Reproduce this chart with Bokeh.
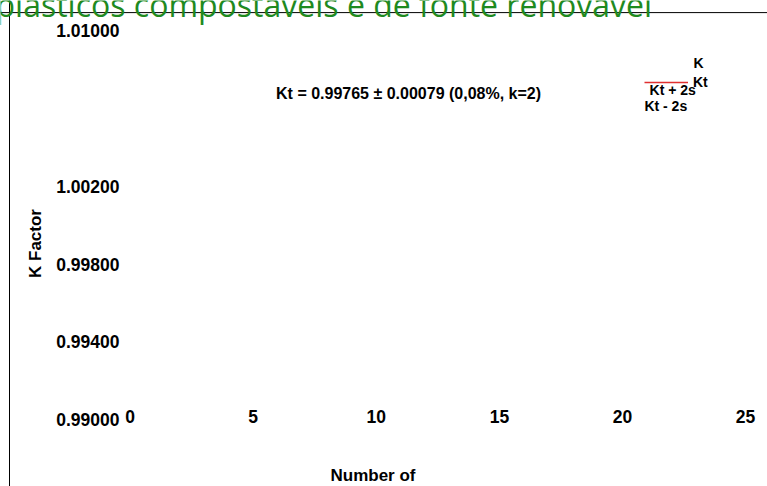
from bokeh.plotting import figure
from bokeh.models import Range1d, FixedTicker, Label, Span, Legend, LegendItem, LinearAxis
from bokeh.embed import file_html
from bokeh.resources import INLINE

# ---- data ----
title_text = "plásticos compostáveis e de fonte renovável"
x_ticks = [0, 5, 10, 15, 20, 25]
y_ticks = [0.990, 0.994, 0.998, 1.002, 1.010]
y_tick_labels = ["0.99000", "0.99400", "0.99800", "1.00200", "1.01000"]
kt_value = 0.99765
kt_uncert = 0.00079
kt_rel = "0,08%"
kt_k = 2
legend_names = ["K", "Kt", "Kt + 2s", "Kt - 2s"]
x_title = "Number of"
y_title = "K Factor"

FONT = "Liberation Sans"
NAN = float("nan")

p = figure(width=767, height=486, output_backend="svg", toolbar_location=None,
           x_range=Range1d(-5.264, 25.89), y_range=Range1d(0.986582, 1.011531),
           min_border=0, x_axis_location=None, y_axis_location=None)
p.outline_line_color = None
p.xgrid.visible = False
p.ygrid.visible = False
p.background_fill_color = "white"
p.border_fill_color = "white"

xa = LinearAxis(ticker=FixedTicker(ticks=x_ticks), fixed_location=0.99074,
                axis_label=x_title, bounds=(-5.26, 25))
ya = LinearAxis(ticker=FixedTicker(ticks=y_ticks), fixed_location=-0.27,
                axis_label=y_title,
                major_label_overrides={t: s for t, s in zip(y_ticks, y_tick_labels)})
for ax in (xa, ya):
    ax.axis_line_color = None
    ax.major_tick_line_color = None
    ax.minor_tick_line_color = None
    ax.major_tick_out = 0
    ax.major_tick_in = 0
    ax.major_label_standoff = 4
    ax.major_label_text_font = FONT
    ax.major_label_text_font_style = "bold"
    ax.major_label_text_font_size = "17.5px"
    ax.major_label_text_color = "black"
    ax.axis_label_text_font = FONT
    ax.axis_label_text_font_style = "bold"
    ax.axis_label_text_font_size = "17px"
    ax.axis_label_text_color = "black"
xa.axis_label_standoff = 40
ya.axis_label_standoff = 8
p.add_layout(xa, "below")
p.add_layout(ya, "left")

# chart-area border (left and top edges visible)
p.add_layout(Span(location=-4.898, dimension="height", line_color="black", line_width=1))
p.add_layout(Span(location=1.01091, dimension="width", line_color="black", line_width=1))

# cropped green heading
p.add_layout(Label(x=-5.467, y=1.01130, text=title_text, text_font="Open Sans",
                   text_font_size="32px", text_color="#1f8a1f",
                   text_baseline="alphabetic", text_align="left"))

# Kt annotation
ann = f"Kt = {kt_value:.5f} ± {kt_uncert:.5f} ({kt_rel}, k={kt_k})"
p.add_layout(Label(x=11.31, y=1.00676, text=ann, text_font=FONT, text_font_style="bold",
                   text_font_size="16px", text_color="black",
                   text_align="center", text_baseline="middle"))

# legend fragments (series are not drawn in the reference)
kt_line = p.line(x=[0, 25], y=[NAN, NAN], line_color="#e03030", line_width=1.5)
leg = Legend(items=[LegendItem(label=legend_names[1], renderers=[kt_line])],
             location=(644, 396), border_line_color=None, background_fill_alpha=0,
             padding=0, margin=0, glyph_width=44, glyph_height=14, label_height=14,
             label_standoff=5, label_text_font=FONT, label_text_font_style="bold",
             label_text_font_size="14px", label_text_color="black")
p.add_layout(leg)
for name, xx, yy in [(legend_names[0], 22.88, 1.00830),
                     (legend_names[2], 21.10, 1.00696),
                     (legend_names[3], 20.89, 1.00609)]:
    p.add_layout(Label(x=xx, y=yy, text=name, text_font=FONT, text_font_style="bold",
                       text_font_size="14px", text_color="black",
                       text_align="left", text_baseline="middle"))

open("out.html", "w").write(file_html(p, INLINE))
